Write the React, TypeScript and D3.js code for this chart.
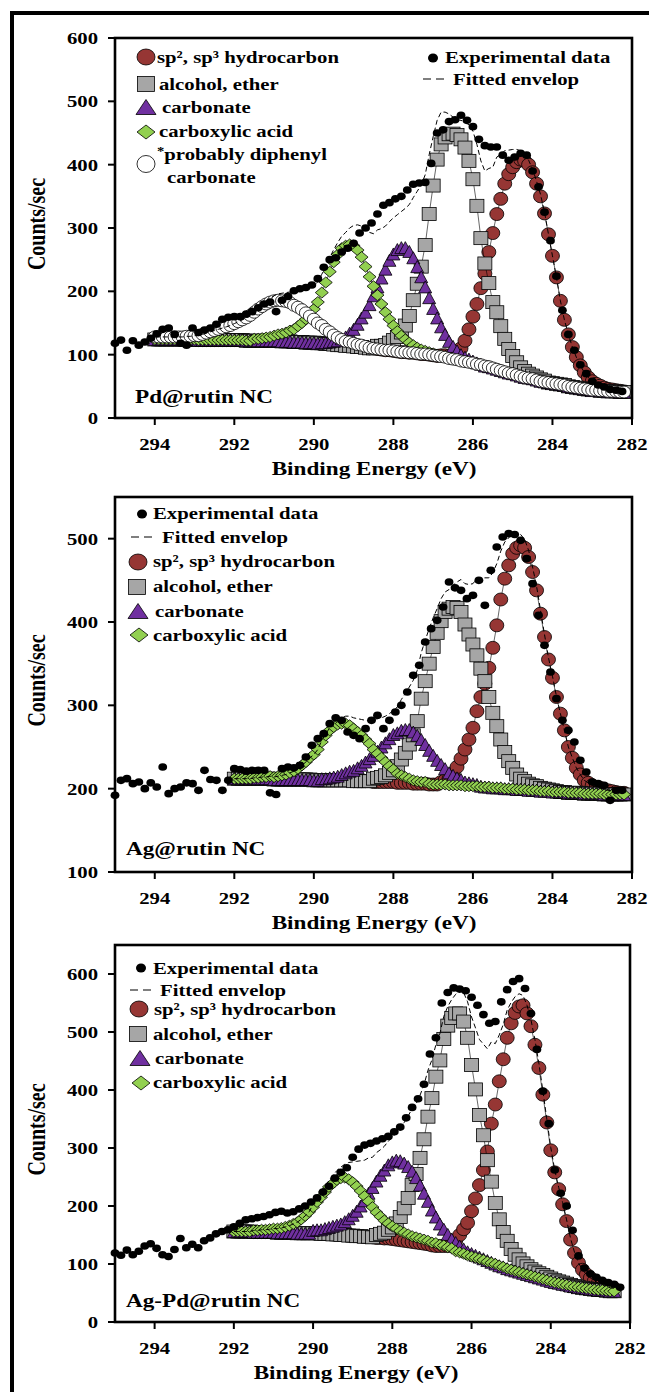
import React from "react"
import * as d3 from "d3"

// ---- data (binding energy grid steps) ----
const STEP = 0.1
const EXP_STEP = 0.15
const EXP_START = 295.0

const xTicks = [294, 292, 290, 288, 286, 284, 282]
const pdYTicks = [0, 100, 200, 300, 400, 500, 600]
const agYTicks = [100, 200, 300, 400, 500]
const agPdYTicks = [0, 100, 200, 300, 400, 500, 600]

// Pd@rutin NC : background from 294.0 down to 282.2 eV
const pdGridStart = 294.0
const pdBackground = [
  124, 124, 124, 124, 124, 124, 124, 124, 124, 124, 124, 123, 123, 123, 123, 123, 123, 123, 123, 123,
  123, 123, 123, 122, 122, 122, 122, 122, 122, 122, 122,
  122, 121, 121, 121, 120, 120, 120, 119, 119, 119,
  118, 118, 117, 117, 116, 115, 115, 114, 114, 113,
  112, 112, 111, 110, 110, 109, 108, 107, 107, 106,
  105, 104, 104, 103, 103, 102, 101, 101, 100, 99,
  98, 97, 96, 94, 93, 92, 90, 89, 88, 87,
  85, 84, 82, 81, 79, 77, 75, 73, 71, 70,
  68, 66, 64, 63, 62, 60, 58, 57, 56, 55,
  54, 53, 52, 50, 49, 48, 47, 46, 45, 44,
  44, 43, 43, 42, 42, 42, 41, 41,
]
const pdSp2Start = 286.8
const pdSp2 = [
  2, 3, 4, 6, 10, 20, 33, 52, 73, 95, 121, 146, 181, 213, 245, 271, 297, 314, 326, 336,
  342, 342, 337, 326, 310, 292, 266, 234, 201, 168, 132, 103, 82, 63, 48, 36, 26, 19, 14, 10,
  8, 5, 4, 3, 2, 2, 1,
]
const pdAlcoholStart = 288.4
const pdAlcohol = [
  5, 6, 8, 12, 17, 23, 31, 42, 58, 83, 110, 138, 172, 222, 268, 310, 335, 347, 354, 356,
  355, 350, 338, 318, 290, 250, 200, 162, 132, 104, 90, 70, 52, 38, 28, 20, 14, 10, 7, 5,
  4, 3, 2,
]
const pdCarbonateStart = 289.8
const pdCarbonate = [
  1, 2, 3, 5, 7, 10, 14, 20, 27, 36, 46, 56, 69, 83, 98, 113, 128, 142, 153, 161,
  165, 165, 160, 150, 137, 122, 106, 90, 74, 60, 47, 36, 27, 20, 14, 10, 7, 5, 3, 2, 1,
]
const pdCarboxylicStart = 291.5
const pdCarboxylic = [
  3, 3, 4, 5, 6, 8, 10, 12, 14, 17, 20, 25, 30, 37, 44, 53, 65, 80, 97, 114,
  130, 143, 153, 158, 160, 159, 153, 142, 128, 113, 98, 85, 72, 60, 49, 40, 32, 26, 20, 16,
  12, 9, 7, 5, 4, 3, 2, 2, 1, 1, 0,
]
const pdDiphenylStart = 294.0
const pdDiphenyl = [
  4, 4, 4, 4, 4, 4, 4, 4, 5, 5, 6, 7, 9, 11, 13, 15, 17, 19, 21, 23,
  26, 29, 32, 36, 40, 45, 50, 54, 58, 61, 63, 64, 64, 63, 61, 58, 55, 51, 47, 42,
  37, 32, 28, 23, 19, 15, 12, 9, 7, 6, 5, 4, 3, 2, 1, 0,
]
const pdExp = [
  118, 123, 107, 122, 115, 120, 126, 133, 140, 142, 132, 118, 115, 142, 135, 139, 142, 148, 156, 159,
  160, 160, 164, 168, 174, 180, 183, 168, 186, 192, 201, 204, 206, 210, 220, 238, 250, 253, 262, 268,
  276, 292, 300, 308, 322, 336, 340, 346, 350, 360, 369, 371, 372, 402, 450, 455, 468, 471, 478, 470,
  460, 440, 430, 428, 428, 415, 407, 412, 418, 415, 390, 365, 325, 280, 224, 170, 132, 107, 84, 70,
  58, 52, 49, 45, 44, 42,
]

// Ag@rutin NC : background from 292.0 down to 282.2 eV
const agGridStart = 292.0
const agBackground = [
  212, 212, 212, 212, 212, 212, 212, 212, 212, 212,
  211, 211, 211, 211, 211, 211, 211, 211, 211, 211,
  210, 210, 210, 210, 210, 210, 210, 210, 210, 210,
  209, 209, 209, 209, 209, 208, 208, 208, 208, 208,
  208, 207, 207, 207, 207, 206, 206, 206, 206, 205,
  205, 205, 205, 205, 204, 204, 204, 204, 203, 203,
  203, 203, 202, 202, 202, 201, 201, 201, 200, 200,
  200, 199, 199, 199, 198, 198, 198, 197, 197, 197,
  196, 196, 196, 196, 195, 195, 195, 195, 194, 194,
  194, 194, 194, 193, 193, 193, 193, 193, 193,
]
const agSp2Start = 286.8
const agSp2 = [
  3, 5, 8, 14, 22, 32, 44, 56, 70, 90, 108, 124, 143, 168, 195, 226, 252, 268, 282, 290,
  293, 290, 280, 262, 240, 213, 185, 158, 137, 114, 94, 74, 55, 42, 30, 22, 16, 13, 10, 8,
  7, 6, 5, 4, 3, 2, 2,
]
const agAlcoholStart = 288.5
const agAlcohol = [
  4, 5, 6, 8, 11, 14, 20, 28, 36, 46, 58, 75, 102, 123, 145, 165, 182, 196, 207, 212,
  214, 213, 208, 194, 182, 170, 157, 142, 127, 108, 90, 74, 58, 44, 33, 25, 18, 13, 10, 8,
  6, 5, 4, 3, 2, 2, 1,
]
const agCarbonateStart = 289.8
const agCarbonate = [
  2, 2, 3, 4, 5, 7, 9, 11, 13, 16, 19, 23, 27, 32, 37, 42, 47, 52, 57, 60,
  63, 64, 64, 62, 58, 53, 47, 41, 35, 29, 24, 19, 15, 12, 9, 7, 5, 4, 3, 2, 1,
]
const agCarboxylicStart = 291.5
const agCarboxylic = [
  1, 1, 2, 2, 3, 3, 4, 5, 6, 8, 10, 13, 17, 21, 26, 31, 37, 46, 54, 60,
  64, 67, 68, 68, 66, 63, 59, 55, 50, 45, 39, 34, 29, 24, 19, 15, 11, 9, 7, 5,
  4, 3, 2, 2, 1,
]
const agExp = [
  192, 210, 212, 206, 208, 200, 207, 202, 226, 194, 200, 202, 207, 206, 198, 222, 211, 210, 198, 210,
  224, 223, 221, 222, 222, 222, 195, 193, 224, 226, 225, 228, 238, 252, 260, 266, 278, 285, 282, 268,
  264, 260, 272, 282, 288, 272, 282, 292, 300, 316, 336, 348, 376, 392, 402, 418, 448, 441, 438, 428,
  432, 450, 420, 462, 490, 502, 506, 505, 498, 476, 446, 408, 372, 340, 308, 282, 270, 256, 234, 220,
  208, 206, 204, 186, 198, 198,
]

// Ag-Pd@rutin NC : background from 292.0 down to 282.4 eV
const apGridStart = 292.0
const apBackground = [
  156, 156, 156, 156, 156, 155, 155, 155, 155, 155, 155,
  154, 154, 154, 154, 154, 153, 153, 153, 153, 153,
  153, 152, 152, 152, 151, 151, 150, 150, 149, 149,
  148, 148, 147, 147, 146, 145, 145, 144, 144, 143,
  142, 141, 140, 139, 138, 137, 136, 135, 134, 132,
  131, 129, 128, 126, 124, 122, 120, 118, 115, 113,
  111, 109, 107, 104, 102, 100, 97, 95, 92, 90,
  88, 86, 84, 82, 80, 78, 76, 74, 72, 70,
  68, 67, 65, 64, 62, 61, 60, 59, 58, 57,
  56, 55, 55, 54, 53, 53,
]
const apSp2Start = 286.8
const apSp2 = [
  2, 3, 5, 10, 18, 30, 42, 56, 78, 102, 127, 155, 190, 240, 275, 318, 358, 398, 425, 445,
  458, 462, 450, 430, 400, 362, 318, 272, 226, 190, 162, 138, 110, 80, 58, 42, 31, 24, 19, 15,
  12, 10, 8, 6, 5,
]
const apAlcoholStart = 288.4
const apAlcohol = [
  5, 7, 10, 15, 20, 28, 40, 56, 75, 98, 118, 147, 180, 220, 254, 292, 322, 360, 385, 400,
  410, 412, 400, 375, 330, 290, 248, 215, 175, 140, 105, 80, 60, 48, 36, 28, 22, 17, 14, 11,
  9, 8, 7, 6, 5, 4, 3, 3, 2, 2, 1,
]
const apCarbonateStart = 290.0
const apCarbonate = [
  5, 6, 7, 9, 11, 14, 16, 19, 23, 29, 35, 43, 52, 62, 75, 86, 98, 108, 118, 127,
  133, 137, 137, 134, 129, 122, 112, 100, 87, 74, 61, 50, 40, 32, 25, 19, 15, 11, 8, 6,
  5, 4, 3, 2, 2, 1,
]
const apCarboxylicStart = 291.5
const apCarboxylic = [
  3, 3, 4, 4, 5, 6, 7, 8, 10, 12, 15, 19, 24, 30, 37, 45, 54, 63, 72, 81,
  88, 94, 98, 99, 97, 92, 86, 78, 70, 61, 52, 44, 37, 31, 26, 22, 19, 16, 14, 12,
  10, 9, 8, 7, 6, 5, 5, 4, 4, 3, 3,
]
const apExp = [
  119, 115, 124, 116, 122, 131, 135, 127, 116, 113, 125, 144, 128, 134, 128, 140, 145, 152, 156, 159,
  164, 170, 176, 178, 180, 182, 185, 189, 191, 188, 190, 195, 200, 207, 214, 224, 234, 248, 258, 266,
  284, 298, 305, 308, 312, 316, 320, 328, 336, 352, 370, 385, 410, 462, 490, 550, 568, 576, 574, 571,
  560, 546, 530, 515, 518, 552, 573, 587, 592, 575, 532, 470, 398, 342, 262, 222, 200, 158, 114, 93,
  83, 77, 72, 68, 65, 60,
]

// ---- styling ----
const FONT = "'Liberation Serif', 'Times New Roman', serif"
const STRETCH = 1.22

type Shape = "circle" | "square" | "triangle" | "diamond"
const STYLE: Record<string, { shape: Shape; fill: string; w: number; h: number }> = {
  sp2: { shape: "circle", fill: "#963634", w: 14, h: 13 },
  alcohol: { shape: "square", fill: "#A6A6A6", w: 14, h: 13 },
  carbonate: { shape: "triangle", fill: "#7030A0", w: 13, h: 12 },
  carboxylic: { shape: "diamond", fill: "#92D050", w: 13, h: 11 },
  diphenyl: { shape: "circle", fill: "#FFFFFF", w: 13, h: 12 },
}

type Pt = { e: number; v: number }

function Marker({ shape, x, y, w, h, fill }: { shape: Shape; x: number; y: number; w: number; h: number; fill: string }) {
  const common = { fill, stroke: "#000", strokeWidth: 0.8 }
  if (shape === "circle") return <ellipse cx={x} cy={y} rx={w / 2} ry={h / 2} {...common} />
  if (shape === "square") return <rect x={x - w / 2} y={y - h / 2} width={w} height={h} {...common} />
  if (shape === "triangle")
    return <path d={`M${x},${y - h / 2}L${x + w / 2},${y + h / 2}L${x - w / 2},${y + h / 2}Z`} {...common} />
  return <path d={`M${x},${y - h / 2}L${x + w / 2},${y}L${x},${y + h / 2}L${x - w / 2},${y}Z`} {...common} />
}

function T({ x, y, size, anchor = "start", children }: { x: number; y: number; size: number; anchor?: string; children: React.ReactNode }) {
  return (
    <text transform={`translate(${x},${y}) scale(${STRETCH},1)`} textAnchor={anchor} fontSize={size} fontWeight="bold" fontFamily={FONT} fill="#000">
      {children}
    </text>
  )
}

type Series = { key: string; start: number; peak: number[] }
type LegendItem = { kind: string; label: React.ReactNode; mx: number; my: number; tx: number; ty: number }
type PanelCfg = {
  name: string
  left: number; right: number; top: number; bottom: number
  yDomain: [number, number]; yTicks: number[]
  gridStart: number; background: number[]
  series: Series[]
  exp: number[]
  labelX: number; labelY: number
  titleX: number
  legend: LegendItem[]
}

const energyAt = (start: number, i: number, step: number) => +(start - i * step).toFixed(2)

function peakAt(s: Series, e: number) {
  const j = Math.round((s.start - e) / STEP)
  return j >= 0 && j < s.peak.length ? s.peak[j] : 0
}

function Panel({ cfg }: { cfg: PanelCfg }) {
  const x = d3.scaleLinear().domain([295, 282]).range([cfg.left, cfg.right])
  const y = d3.scaleLinear().domain(cfg.yDomain).range([cfg.bottom, cfg.top])
  const line = d3.line<Pt>().x((d) => x(d.e)).y((d) => y(d.v))
  const grid = cfg.background.map((b, i) => ({ e: energyAt(cfg.gridStart, i, STEP), b }))
  const comps = cfg.series.map((s) => ({ s, pts: grid.map((g) => ({ e: g.e, v: g.b + peakAt(s, g.e) })) }))
  const env = grid.map((g) => ({ e: g.e, v: g.b + d3.sum(cfg.series, (s) => peakAt(s, g.e)) }))
  const exp = cfg.exp.map((v, i) => ({ e: energyAt(EXP_START, i, EXP_STEP), v }))
  const midY = (cfg.top + cfg.bottom) / 2

  return (
    <g>
      {comps.map(({ s, pts }) => {
        const st = STYLE[s.key]
        return (
          <g key={s.key}>
            <path d={line(pts) || ""} fill="none" stroke="#000" strokeWidth={0.6} />
            {pts.map((p, i) => (
              <Marker key={i} shape={st.shape} x={x(p.e)} y={y(p.v)} w={st.w} h={st.h} fill={st.fill} />
            ))}
          </g>
        )
      })}
      <path d={line(env) || ""} fill="none" stroke="#000" strokeWidth={1} strokeDasharray="5,3" />
      {exp.map((p, i) => (
        <ellipse key={i} cx={x(p.e)} cy={y(p.v)} rx={4.4} ry={3.8} fill="#000" />
      ))}

      {/* frame & axes */}
      <rect x={cfg.left} y={cfg.top} width={cfg.right - cfg.left} height={cfg.bottom - cfg.top} fill="none" stroke="#000" strokeWidth={2.6} />
      {xTicks.map((t) => (
        <g key={t}>
          <line x1={x(t)} x2={x(t)} y1={cfg.bottom} y2={cfg.bottom + 7} stroke="#000" strokeWidth={2} />
          <T x={x(t)} y={cfg.bottom + 32} size={17} anchor="middle">{t}</T>
        </g>
      ))}
      {cfg.yTicks.map((t) => (
        <g key={t}>
          <line x1={cfg.left - 7} x2={cfg.left} y1={y(t)} y2={y(t)} stroke="#000" strokeWidth={2} />
          <T x={cfg.left - 17} y={y(t) + 6} size={17} anchor="end">{t}</T>
        </g>
      ))}
      <T x={cfg.titleX} y={cfg.bottom + 57} size={19} anchor="middle">Binding Energy (eV)</T>
      <text transform={`translate(45,${midY - 4}) rotate(-90) scale(1,${STRETCH})`} textAnchor="middle" fontSize={20} fontWeight="bold" fontFamily={FONT}>
        Counts/sec
      </text>
      <T x={cfg.labelX} y={cfg.labelY} size={19}>{cfg.name}</T>

      {/* legend */}
      {cfg.legend.map((it, i) => {
        let mark: React.ReactNode = null
        if (it.kind === "exp") mark = <ellipse cx={it.mx} cy={it.my} rx={5} ry={4.6} fill="#000" />
        else if (it.kind === "env")
          mark = <line x1={it.mx} x2={it.mx + 26} y1={it.my} y2={it.my} stroke="#000" strokeWidth={1.2} strokeDasharray="8,5" />
        else if (it.kind !== "none") {
          const st = STYLE[it.kind]
          const big = { circle: [18, 16], square: [17, 15], triangle: [20, 15], diamond: [18, 14] }[st.shape]
          mark = <Marker shape={st.shape} x={it.mx} y={it.my} w={big[0]} h={st.fill === "#FFFFFF" ? 17 : big[1]} fill={st.fill} />
        }
        return (
          <g key={i}>
            {mark}
            <T x={it.tx} y={it.ty} size={17}>{it.label}</T>
          </g>
        )
      })}
    </g>
  )
}

const SP2 = "sp², sp³ hydrocarbon"

const panels: PanelCfg[] = [
  {
    name: "Pd@rutin NC",
    left: 115, right: 632, top: 38, bottom: 418,
    yDomain: [0, 600], yTicks: pdYTicks,
    gridStart: pdGridStart, background: pdBackground,
    series: [
      { key: "sp2", start: pdSp2Start, peak: pdSp2 },
      { key: "alcohol", start: pdAlcoholStart, peak: pdAlcohol },
      { key: "carbonate", start: pdCarbonateStart, peak: pdCarbonate },
      { key: "carboxylic", start: pdCarboxylicStart, peak: pdCarboxylic },
      { key: "diphenyl", start: pdDiphenylStart, peak: pdDiphenyl },
    ],
    exp: pdExp,
    labelX: 135, labelY: 403, titleX: 374,
    legend: [
      { kind: "sp2", label: SP2, mx: 146, my: 57, tx: 157, ty: 63 },
      { kind: "alcohol", label: "alcohol, ether", mx: 146, my: 84, tx: 159, ty: 90 },
      { kind: "carbonate", label: "carbonate", mx: 146, my: 107, tx: 162, ty: 113 },
      { kind: "carboxylic", label: "carboxylic acid", mx: 146, my: 132, tx: 159, ty: 137 },
      {
        kind: "diphenyl",
        label: (
          <>
            <tspan fontSize={12} dy={-5}>*</tspan>
            <tspan dy={5}>probably diphenyl</tspan>
          </>
        ),
        mx: 146, my: 164, tx: 157, ty: 160,
      },
      { kind: "none", label: "carbonate", mx: 0, my: 0, tx: 167, ty: 183 },
      { kind: "exp", label: "Experimental data", mx: 433, my: 58, tx: 445, ty: 63 },
      { kind: "env", label: "Fitted envelop", mx: 423, my: 79, tx: 453, ty: 85 },
    ],
  },
  {
    name: "Ag@rutin NC",
    left: 115, right: 632, top: 497, bottom: 872,
    yDomain: [100, 550], yTicks: agYTicks,
    gridStart: agGridStart, background: agBackground,
    series: [
      { key: "sp2", start: agSp2Start, peak: agSp2 },
      { key: "alcohol", start: agAlcoholStart, peak: agAlcohol },
      { key: "carbonate", start: agCarbonateStart, peak: agCarbonate },
      { key: "carboxylic", start: agCarboxylicStart, peak: agCarboxylic },
    ],
    exp: agExp,
    labelX: 126, labelY: 855, titleX: 374,
    legend: [
      { kind: "exp", label: "Experimental data", mx: 142, my: 514, tx: 153, ty: 519 },
      { kind: "env", label: "Fitted envelop", mx: 131, my: 537, tx: 162, ty: 543 },
      { kind: "sp2", label: SP2, mx: 138, my: 562, tx: 153, ty: 567 },
      { kind: "alcohol", label: "alcohol, ether", mx: 137, my: 587, tx: 153, ty: 592 },
      { kind: "carbonate", label: "carbonate", mx: 138, my: 611, tx: 155, ty: 617 },
      { kind: "carboxylic", label: "carboxylic acid", mx: 139, my: 635, tx: 153, ty: 641 },
    ],
  },
  {
    name: "Ag-Pd@rutin NC",
    left: 115, right: 630, top: 945, bottom: 1322,
    yDomain: [0, 650], yTicks: agPdYTicks,
    gridStart: apGridStart, background: apBackground,
    series: [
      { key: "sp2", start: apSp2Start, peak: apSp2 },
      { key: "alcohol", start: apAlcoholStart, peak: apAlcohol },
      { key: "carbonate", start: apCarbonateStart, peak: apCarbonate },
      { key: "carboxylic", start: apCarboxylicStart, peak: apCarboxylic },
    ],
    exp: apExp,
    labelX: 126, labelY: 1307, titleX: 356,
    legend: [
      { kind: "exp", label: "Experimental data", mx: 141, my: 968, tx: 153, ty: 974 },
      { kind: "env", label: "Fitted envelop", mx: 130, my: 990, tx: 160, ty: 996 },
      { kind: "sp2", label: SP2, mx: 139, my: 1009, tx: 154, ty: 1015 },
      { kind: "alcohol", label: "alcohol, ether", mx: 138, my: 1034, tx: 153, ty: 1040 },
      { kind: "carbonate", label: "carbonate", mx: 140, my: 1058, tx: 155, ty: 1064 },
      { kind: "carboxylic", label: "carboxylic acid", mx: 141, my: 1083, tx: 153, ty: 1088 },
    ],
  },
]

export default function App() {
  return (
    <svg width={649} height={1392} style={{ position: "absolute", left: 0, top: 0, background: "#fff" }}>
      <path d="M12,1400 V13 H660" fill="none" stroke="#000" strokeWidth={4} />
      {panels.map((p) => (
        <Panel key={p.name} cfg={p} />
      ))}
    </svg>
  )
}
